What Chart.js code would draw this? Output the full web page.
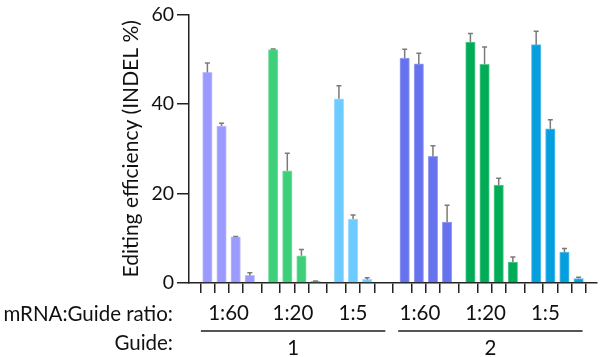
<!DOCTYPE html>
<html>
<head>
<meta charset="utf-8">
<script src="https://cdn.jsdelivr.net/npm/chart.js@4/dist/chart.umd.min.js"></script>
<style>
  html, body { margin: 0; padding: 0; background: #fff; }
  #wrap { width: 600px; height: 357px; position: relative; }
</style>
</head>
<body>
<div id="wrap"><canvas id="c" width="600" height="357"></canvas></div>
<script>
// ---- data ----
const guides = ['1', '2'];
const ratios = ['1:60', '1:20', '1:5'];
const barsPerRatio = 4;
// Guide 1: 1:60 (4 bars), 1:20 (4 bars), 1:5 (4 bars)
const valuesGuide1 = [47.1, 35.1, 10.3, 1.7,  52.2, 25.1, 6.1, 0.35,  41.2, 14.3, 0.8, 0];
const errorsGuide1 = [2.1, 0.6, 0.1, 0.6,  0.15, 3.9, 1.4, 0.1,  2.9, 0.9, 0.4, 0];
// Guide 2
const valuesGuide2 = [50.3, 49.0, 28.3, 13.6,  53.9, 48.9, 21.9, 4.7,  53.3, 34.5, 6.9, 1.0];
const errorsGuide2 = [2.0, 2.4, 2.4, 3.8,  1.9, 3.9, 1.5, 1.1,  3.0, 2.0, 0.8, 0.3];
const colorsGuide1 = ['#9B9BFF', '#3DCF7A', '#6DCBFF'];
const colorsGuide2 = ['#6772EE', '#00AD56', '#059FE0'];
const yTicks = [0, 20, 40, 60];

// ---- build ----
const GROUP_GAP = 0.65;
const values = valuesGuide1.concat(valuesGuide2);
const errors = errorsGuide1.concat(errorsGuide2);
const groupColors = colorsGuide1.concat(colorsGuide2);
const xs = values.map((v, i) => i + Math.floor(i / barsPerRatio) * GROUP_GAP);
const points = values.map((v, i) => ({ x: xs[i], y: v }));
const bg = values.map((v, i) => groupColors[Math.floor(i / barsPerRatio)]);
function lighten(hex, f) {
  const n = parseInt(hex.slice(1), 16);
  const r = (n >> 16) & 255, g = (n >> 8) & 255, b = n & 255;
  const m = c => Math.round(c + (255 - c) * f);
  return `rgb(${m(r)},${m(g)},${m(b)})`;
}
const bd = bg.map(c => lighten(c, 0.35));

const FONT = 'Lato, "Open Sans", sans-serif';

const errorBars = {
  id: 'errorBars',
  afterDatasetsDraw(chart) {
    const ctx = chart.ctx, y = chart.scales.y;
    const meta = chart.getDatasetMeta(0);
    ctx.save();
    ctx.strokeStyle = '#7a7a7a';
    ctx.lineWidth = 1.5;
    meta.data.forEach((bar, i) => {
      if (!errors[i]) return;
      const top = y.getPixelForValue(values[i] + errors[i]);
      const base = y.getPixelForValue(values[i]);
      ctx.beginPath();
      ctx.moveTo(bar.x, base);
      ctx.lineTo(bar.x, top);
      ctx.moveTo(bar.x - 2.5, top);
      ctx.lineTo(bar.x + 2.5, top);
      ctx.stroke();
    });
    ctx.restore();
  }
};

// label centre offsets (in bar units) relative to the centre of each ratio group
const ratioLabelShift = [0, -0.1, -0.5, -0.42, -0.43, -0.85];

const groupLabels = {
  id: 'groupLabels',
  afterDraw(chart) {
    const ctx = chart.ctx, x = chart.scales.x;
    ctx.save();
    ctx.fillStyle = '#111';
    ctx.font = '20.5px ' + FONT;
    ctx.textBaseline = 'alphabetic';
    ctx.textAlign = 'right';
    ctx.fillText('mRNA:Guide ratio:', 173, 321);
    ctx.fillText('Guide:', 173, 350);
    ctx.textAlign = 'center';
    const nGroups = guides.length * ratios.length;
    for (let g = 0; g < nGroups; g++) {
      const first = xs[g * barsPerRatio], last = xs[g * barsPerRatio + barsPerRatio - 1];
      const c = (first + last) / 2 + ratioLabelShift[g];
      ctx.fillText(ratios[g % ratios.length], x.getPixelForValue(c), 320);
    }
    const perGuide = ratios.length * barsPerRatio;
    guides.forEach((gname, gi) => {
      const x0 = x.getPixelForValue(xs[gi * perGuide]) - 6.5;
      const x1 = x.getPixelForValue(xs[gi * perGuide + perGuide - 1]) + 4;
      ctx.strokeStyle = '#555';
      ctx.lineWidth = 2;
      ctx.beginPath();
      ctx.moveTo(x0, 331);
      ctx.lineTo(x1, 331);
      ctx.stroke();
      ctx.fillText(gname, (x0 + x1) / 2, 355);
    });
    ctx.restore();
  }
};

new Chart(document.getElementById('c'), {
  type: 'bar',
  data: {
    datasets: [{
      data: points,
      backgroundColor: bg,
      borderColor: bd,
      borderWidth: 1,
      barThickness: 9.5
    }]
  },
  options: {
    responsive: false,
    animation: false,
    maintainAspectRatio: false,
    layout: { padding: { top: 13, right: 3, left: 119, bottom: 0 } },
    plugins: { legend: { display: false }, tooltip: { enabled: false } },
    scales: {
      x: {
        type: 'linear',
        min: xs[0] - 0.7,
        max: xs[xs.length - 1] + 0.7,
        afterBuildTicks(scale) { scale.ticks = xs.map(v => ({ value: v })); },
        afterFit(scale) { scale.height = 74; },
        ticks: { autoSkip: false, callback: () => '', padding: 0 },
        grid: { drawOnChartArea: false, drawTicks: true, tickLength: 10, color: '#222', lineWidth: 1.5 },
        border: { display: true, color: '#222', width: 1.5 }
      },
      y: {
        min: 0, max: 60,
        afterBuildTicks(scale) { scale.ticks = yTicks.map(v => ({ value: v })); },
        afterFit(scale) { scale.width = 70; },
        ticks: { color: '#111', font: { family: FONT, size: 19.5 }, padding: 3 },
        grid: { drawOnChartArea: false, drawTicks: true, tickLength: 12, color: '#222', lineWidth: 1.5 },
        border: { display: true, color: '#222', width: 1.5 },
        title: { display: true, text: 'Editing efficiency (INDEL %)', color: '#111', font: { family: FONT, size: 21 }, padding: { top: 0, bottom: 0 } }
      }
    }
  },
  plugins: [errorBars, groupLabels]
});
</script>
</body>
</html>
